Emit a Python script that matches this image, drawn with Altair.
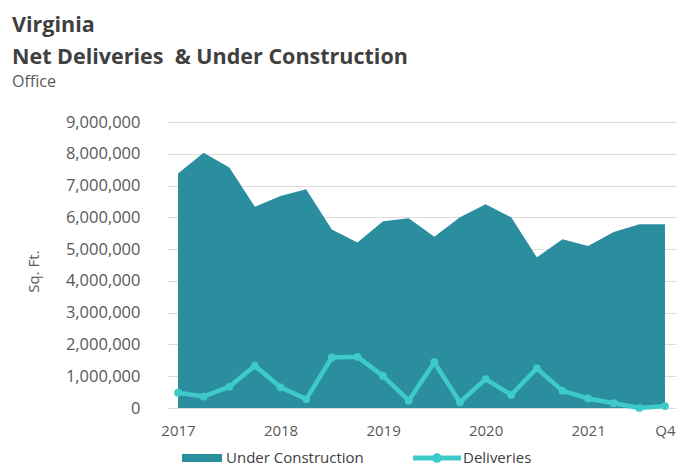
import altair as alt
import pandas as pd

quarters = ["2017 Q1", "2017 Q2", "2017 Q3", "2017 Q4",
            "2018 Q1", "2018 Q2", "2018 Q3", "2018 Q4",
            "2019 Q1", "2019 Q2", "2019 Q3", "2019 Q4",
            "2020 Q1", "2020 Q2", "2020 Q3", "2020 Q4",
            "2021 Q1", "2021 Q2", "2021 Q3", "2021 Q4"]
under_construction = [7380000, 8030000, 7570000, 6330000, 6670000, 6880000,
                      5620000, 5210000, 5880000, 5970000, 5390000, 6000000,
                      6410000, 6000000, 4740000, 5310000, 5100000, 5540000,
                      5780000, 5780000]
deliveries = [480000, 360000, 670000, 1330000, 650000, 280000, 1590000,
              1610000, 1010000, 230000, 1440000, 180000, 910000, 410000,
              1250000, 540000, 300000, 150000, 0, 60000]
tick_positions = [0, 4, 8, 12, 16, 19]
y_ticks = [0, 1000000, 2000000, 3000000, 4000000, 5000000, 6000000,
           7000000, 8000000, 9000000]

AREA = "#2b8e9f"
LINE = "#3fcaca"
FONT = "Open Sans"

df = pd.DataFrame({
    "idx": list(range(len(quarters))),
    "quarter": quarters,
    "uc": under_construction,
    "del": deliveries,
    "uc_label": ["Under Construction"] * len(quarters),
    "d_label": ["Deliveries"] * len(quarters),
})

x_axis = alt.Axis(values=tick_positions,
                  labelExpr="datum.value == 19 ? 'Q4' : '' + (2017 + datum.value / 4)",
                  grid=False, domain=False, ticks=False, tickSize=0,
                  labelPadding=15, labelFontSize=15, labelColor="#595959",
                  labelFont=FONT, title=None)
x_scale = alt.Scale(domain=[-0.43, 19.43], nice=False, zero=False)

y_axis = alt.Axis(values=y_ticks, format=",d", grid=True, gridColor="#dcdcdc",
                  gridWidth=1, domain=False, ticks=False, tickSize=0,
                  labelOverlap=False, labelPadding=27, labelFontSize=16.5,
                  labelColor="#595959", labelFont=FONT, title="Sq. Ft.",
                  titleFont=FONT, titleFontSize=15, titleFontWeight="normal",
                  titleColor="#595959", titleX=-134, titleY=149,
                  titleAngle=270, titleAlign="center", titleBaseline="middle")
y_scale = alt.Scale(domain=[0, 9000000], nice=False)

area = alt.Chart(df).mark_area(opacity=1).encode(
    x=alt.X("idx:Q", scale=x_scale, axis=x_axis),
    y=alt.Y("uc:Q", scale=y_scale, axis=y_axis),
    fill=alt.Fill("uc_label:N",
                  scale=alt.Scale(domain=["Under Construction"], range=[AREA]),
                  legend=alt.Legend(orient="none", legendX=15, legendY=316,
                                    title=None, padding=0,
                                    symbolType="M-1,-0.2H1V0.2H-1Z", symbolSize=1600,
                                    symbolStrokeWidth=0, labelOffset=4,
                                    labelFontSize=15, labelFont=FONT,
                                    labelColor="#404040")),
)

line = alt.Chart(df).mark_line(color=LINE, strokeWidth=4.5).encode(
    x=alt.X("idx:Q", scale=x_scale, axis=x_axis),
    y=alt.Y("del:Q", scale=y_scale, axis=y_axis),
)

points = alt.Chart(df).mark_circle(size=60, opacity=1).encode(
    x=alt.X("idx:Q", scale=x_scale, axis=x_axis),
    y=alt.Y("del:Q", scale=y_scale, axis=y_axis),
    fill=alt.Fill("d_label:N",
                  scale=alt.Scale(domain=["Deliveries"], range=[LINE]),
                  legend=alt.Legend(orient="none", legendX=246, legendY=312,
                                    title=None, padding=0,
                                    symbolType="M-1,-0.1H1V0.1H-1Z M-0.2,0A0.2,0.2 0 1,1 0.2,0A0.2,0.2 0 1,1 -0.2,0Z",
                                    symbolSize=2304, symbolStrokeWidth=0,
                                    labelOffset=2, labelFontSize=15, labelFont=FONT,
                                    labelColor="#404040")),
)

chart = alt.layer(area, line, points).resolve_scale(
    fill="independent"
).resolve_legend(fill="independent").properties(
    width=509,
    height=286,
    background="white",
    autosize=alt.AutoSizeParams(type="none"),
    padding={"left": 159, "top": 114, "right": 1, "bottom": 59},
    title=alt.TitleParams(
        text=["Virginia", "Net Deliveries\u00a0\u00a0& Under Construction"],
        subtitle="Office",
        anchor="start",
        frame="group",
        dx=-155,
        dy=-20,
        fontSize=21.5,
        fontWeight="bold",
        font=FONT,
        color="#404040",
        lineHeight=32,
        subtitleFont=FONT,
        subtitleFontSize=16,
        subtitleColor="#595959",
        subtitlePadding=6,
    ),
).configure_view(stroke=None)

chart.save("out.html", embed_options={"renderer": "svg", "actions": False})
